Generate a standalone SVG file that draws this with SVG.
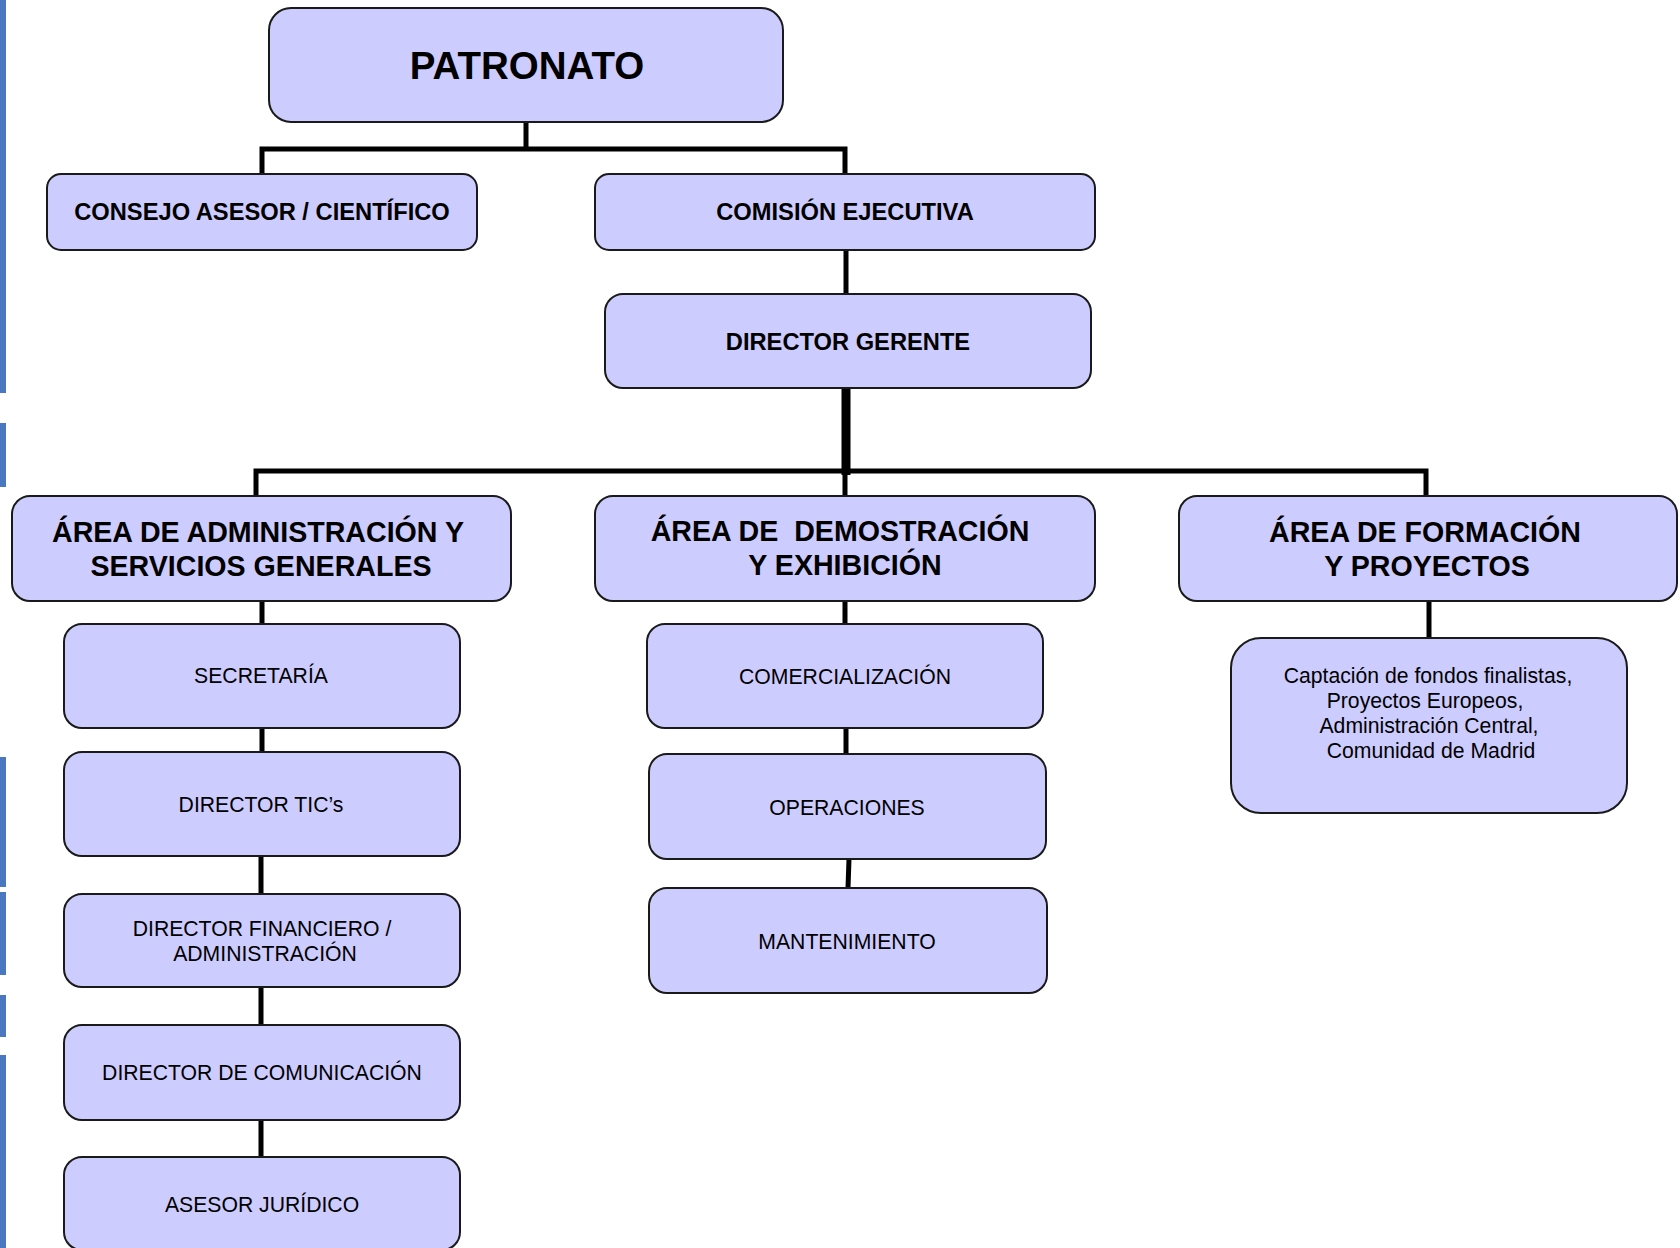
<svg xmlns="http://www.w3.org/2000/svg" width="1680" height="1248" viewBox="0 0 1680 1248">
<style>
.box{fill:#ccccff;stroke:#1a1a1a;stroke-width:2}
.t{font-family:"Liberation Sans",Arial,sans-serif;fill:#000;text-anchor:middle}
.b{font-weight:bold}
.c{stroke:#000;stroke-width:5;fill:none;stroke-linecap:square}
.edge{fill:#4a78c0}
</style>
<rect width="1680" height="1248" fill="#ffffff"/>
<g id="edge-strip">
<rect class="edge" x="0" y="0" width="6" height="393"/>
<rect class="edge" x="0" y="423" width="6" height="64"/>
<rect class="edge" x="0" y="757" width="6" height="130"/>
<rect class="edge" x="0" y="892" width="6" height="83"/>
<rect class="edge" x="0" y="995" width="6" height="42"/>
<rect class="edge" x="0" y="1055" width="6" height="193"/>
</g>
<g id="connectors">
<path class="c" d="M526 122 V149 M262 174 V149 H845 V174"/>
<path class="c" d="M846 250 V294"/>
<path d="M846 388 V475" stroke="#000" stroke-width="9"/>
<path class="c" d="M256 496 V471 H1426 V496 M845 471 V496"/>
<path class="c" d="M262 601 V624 M262 728 V752 M261 856 V894 M261 987 V1025 M261 1120 V1157"/>
<path class="c" d="M845 601 V624 M846 728 V754 M849 859 L848 888"/>
<path class="c" d="M1429 601 V638"/>
</g>
<g id="patronato">
<rect class="box" x="269" y="8" width="514" height="114" rx="22"/>
<text class="t b" x="527" y="78.5" font-size="38.5">PATRONATO</text>
</g>
<g id="consejo">
<rect class="box" x="47" y="174" width="430" height="76" rx="14"/>
<text class="t b" x="262" y="220" font-size="23.7">CONSEJO ASESOR / CIENTÍFICO</text>
</g>
<g id="comision">
<rect class="box" x="595" y="174" width="500" height="76" rx="14"/>
<text class="t b" x="845" y="220" font-size="23.7">COMISIÓN EJECUTIVA</text>
</g>
<g id="director-gerente">
<rect class="box" x="605" y="294" width="486" height="94" rx="18"/>
<text class="t b" x="848" y="350" font-size="23.7">DIRECTOR GERENTE</text>
</g>
<g id="area-admin">
<rect class="box" x="12" y="496" width="499" height="105" rx="18"/>
<text class="t b" x="258" y="542" font-size="28.6">ÁREA DE ADMINISTRACIÓN Y</text>
<text class="t b" x="261" y="576" font-size="28.6">SERVICIOS GENERALES</text>
</g>
<g id="area-demo">
<rect class="box" x="595" y="496" width="500" height="105" rx="18"/>
<text class="t b" x="840" y="541" font-size="28.6" style="white-space:pre">ÁREA DE  DEMOSTRACIÓN</text>
<text class="t b" x="845" y="575" font-size="28.6">Y EXHIBICIÓN</text>
</g>
<g id="area-formacion">
<rect class="box" x="1179" y="496" width="498" height="105" rx="18"/>
<text class="t b" x="1425" y="542" font-size="28.6">ÁREA DE FORMACIÓN</text>
<text class="t b" x="1427" y="576" font-size="28.6">Y PROYECTOS</text>
</g>
<g id="captacion">
<rect class="box" x="1231" y="638" width="396" height="175" rx="30"/>
<text class="t" x="1428" y="683" font-size="21.2">Captación de fondos finalistas,</text>
<text class="t" x="1425" y="708" font-size="21.2">Proyectos Europeos,</text>
<text class="t" x="1429" y="733" font-size="21.2">Administración Central,</text>
<text class="t" x="1431" y="758" font-size="21.2">Comunidad de Madrid</text>
</g>
<g id="secretaria">
<rect class="box" x="64" y="624" width="396" height="104" rx="18"/>
<text class="t" x="261" y="683" font-size="21.2">SECRETARÍA</text>
</g>
<g id="director-tics">
<rect class="box" x="64" y="752" width="396" height="104" rx="18"/>
<text class="t" x="261" y="812" font-size="21.2">DIRECTOR TIC’s</text>
</g>
<g id="director-financiero">
<rect class="box" x="64" y="894" width="396" height="93" rx="18"/>
<text class="t" x="262" y="936" font-size="21.2">DIRECTOR FINANCIERO /</text>
<text class="t" x="265" y="961" font-size="21.2">ADMINISTRACIÓN</text>
</g>
<g id="director-comunicacion">
<rect class="box" x="64" y="1025" width="396" height="95" rx="18"/>
<text class="t" x="262" y="1080" font-size="21.2">DIRECTOR DE COMUNICACIÓN</text>
</g>
<g id="asesor-juridico">
<rect class="box" x="64" y="1157" width="396" height="93" rx="18"/>
<text class="t" x="262" y="1212" font-size="21.2">ASESOR JURÍDICO</text>
</g>
<g id="comercializacion">
<rect class="box" x="647" y="624" width="396" height="104" rx="18"/>
<text class="t" x="845" y="683.5" font-size="21.2">COMERCIALIZACIÓN</text>
</g>
<g id="operaciones">
<rect class="box" x="649" y="754" width="397" height="105" rx="18"/>
<text class="t" x="847" y="815" font-size="21.2">OPERACIONES</text>
</g>
<g id="mantenimiento">
<rect class="box" x="649" y="888" width="398" height="105" rx="18"/>
<text class="t" x="847" y="949" font-size="21.2">MANTENIMIENTO</text>
</g>
</svg>
